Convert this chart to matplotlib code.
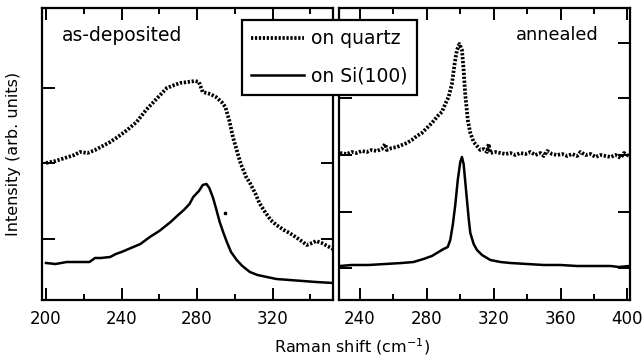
import matplotlib
matplotlib.use("Agg")
import matplotlib.pyplot as plt
from matplotlib.lines import Line2D

# -- data (arbitrary intensity units) ----------------------------------------
dep_quartz_x = [200, 205, 210, 215, 218, 222, 226, 230, 234, 238, 243, 248,
                253, 258, 264, 268, 271, 275, 279, 281, 283, 287, 290, 293,
                295, 297, 299, 301, 303, 306, 308, 311, 313, 316, 319, 322,
                326, 329, 333, 336, 338, 341, 343, 346, 348, 351, 353]
dep_quartz_y = [137, 139, 142, 145, 148, 147, 150, 154, 158, 163, 170, 178,
                190, 200, 212, 215, 217, 218, 219, 218, 208, 206, 203, 198,
                193, 180, 163, 150, 137, 123, 117, 106, 97, 88, 80, 75,
                70, 67, 62, 58, 55, 57, 59, 57, 55, 52, 50]

dep_si_x = [200, 205, 211, 217, 223, 226, 229, 234, 237, 240, 245, 250, 255,
            260, 266, 270, 273, 276, 278, 281, 283, 285, 286.5, 288.5, 290,
            292, 294, 296, 298, 301, 304, 308, 312, 317, 322, 329, 336, 343,
            352]
dep_si_y = [37, 36, 38, 38, 38, 42, 42, 43, 46, 48, 52, 56, 63,
            69, 78, 85, 90, 96, 103, 109, 115, 116, 112, 102, 92,
            78, 67, 57, 48, 40, 34, 28, 25, 23, 21, 20, 19, 18, 17]

stray_x = [294.8]
stray_y = [87]

ann_quartz_x = [228, 232, 235, 238, 241, 244, 247, 250, 253, 255, 256, 259,
                262, 265, 268, 271, 274, 277, 280, 283, 285, 287, 289, 291,
                293, 295, 296.5, 298, 299.5, 301, 302, 303, 304.5, 306, 308,
                310, 312, 314, 316, 317, 318, 321, 324, 327, 330, 333, 336,
                339, 342, 345, 348, 350, 352, 355, 358, 361, 364, 367, 370,
                372, 375, 378, 381, 384, 387, 390, 393, 396, 398, 401]
ann_quartz_y = [147, 146, 148, 147, 149, 148, 150, 149, 151, 156, 150, 152,
                153, 155, 157, 160, 164, 167, 172, 177, 181, 185, 188, 196,
                203, 216, 235, 250, 256, 250, 230, 205, 180, 167, 158,
                154, 150, 151, 148, 156, 147, 148, 147, 146, 147, 145, 147,
                146, 148, 145, 147, 144, 149, 146, 145, 146, 144, 146, 144,
                148, 145, 146, 143, 145, 144, 143, 145, 142, 147, 144]

ann_si_x = [228, 235, 245, 255, 265, 272, 278, 283, 287, 290, 292.5, 294,
            295.5, 297, 298.5, 300, 301, 302, 303, 304, 305, 306, 308, 310,
            313, 318, 324, 330, 340, 350, 360, 370, 380, 390, 395, 401]
ann_si_y = [34, 35, 35, 36, 37, 38, 41, 44, 48, 51, 53, 60,
            75, 95, 120, 138, 143, 136, 118, 100, 82, 67, 56, 50,
            45, 40, 38, 37, 36, 35, 35, 34, 34, 34, 33, 34]

dep_xmajor = [200, 240, 280, 320]
dep_xminor = [220, 260, 300, 340]
dep_yticks = [61, 137, 212]
ann_xmajor = [240, 280, 320, 360, 400]
ann_xminor = [260, 300, 340, 380]
ann_yticks = [32, 88, 145, 202, 257]

DOT = (0, (0.6, 0.45))

fig = plt.figure(figsize=(6.43, 3.58), dpi=100)
ax1 = fig.add_axes([42 / 643, 58 / 358, 291 / 643, 292 / 358])
ax2 = fig.add_axes([339 / 643, 58 / 358, 291 / 643, 292 / 358])

ax1.plot(dep_quartz_x, dep_quartz_y, color="black", lw=2.7, ls=DOT)
ax1.plot(dep_si_x, dep_si_y, color="black", lw=1.8)
ax1.plot(stray_x, stray_y, "s", color="black", ms=1.5)
ax2.plot(ann_quartz_x, ann_quartz_y, color="black", lw=2.7, ls=DOT)
ax2.plot(ann_si_x, ann_si_y, color="black", lw=1.8)

ax1.set_xlim(197.9, 352)
ax2.set_xlim(227.4, 401.6)
for ax in (ax1, ax2):
    ax.set_ylim(0, 292)

ax1.set_xticks(dep_xmajor)
ax1.set_xticks(dep_xminor, minor=True)
ax1.set_yticks(dep_yticks)
ax2.set_xticks(ann_xmajor)
ax2.set_xticks(ann_xminor, minor=True)
ax2.set_yticks(ann_yticks)

for ax in (ax1, ax2):
    for s in ax.spines.values():
        s.set_linewidth(1.6)
    ax.tick_params(which="both", direction="in", top=True, right=True,
                   width=1.4, labelsize=12, pad=7)
    ax.tick_params(which="major", length=8.5)
    ax.tick_params(which="minor", length=4.5)
    ax.tick_params(axis="y", labelleft=False, length=9)

ax1.text(0.069, 0.887, "as-deposited", transform=ax1.transAxes,
         fontsize=13.5, va="baseline", ha="left")
ax2.text(0.893, 0.89, "annealed", transform=ax2.transAxes,
         fontsize=12.8, va="baseline", ha="right")

fig.text(352 / 643, 1 - 347 / 358, "Raman shift (cm$^{-1}$)", fontsize=11.5,
         ha="center", va="center")
fig.text(14 / 643, 1 - 154 / 358, "Intensity (arb. units)", fontsize=11.5,
         ha="center", va="center", rotation=90)

handles = [Line2D([0], [0], color="black", lw=2.7, ls=DOT, label="on quartz"),
           Line2D([0], [0], color="black", lw=1.8, label="on Si(100)")]
leg = fig.legend(handles=handles, loc="upper left",
                 bbox_to_anchor=(242 / 643, 1 - 20 / 358), borderaxespad=0,
                 fontsize=13.5, handlelength=2.8, handletextpad=0.4,
                 labelspacing=0.95, borderpad=0.5, fancybox=False,
                 framealpha=1, edgecolor="black")
leg.get_frame().set_linewidth(1.6)

fig.savefig("out.png", dpi=100)
